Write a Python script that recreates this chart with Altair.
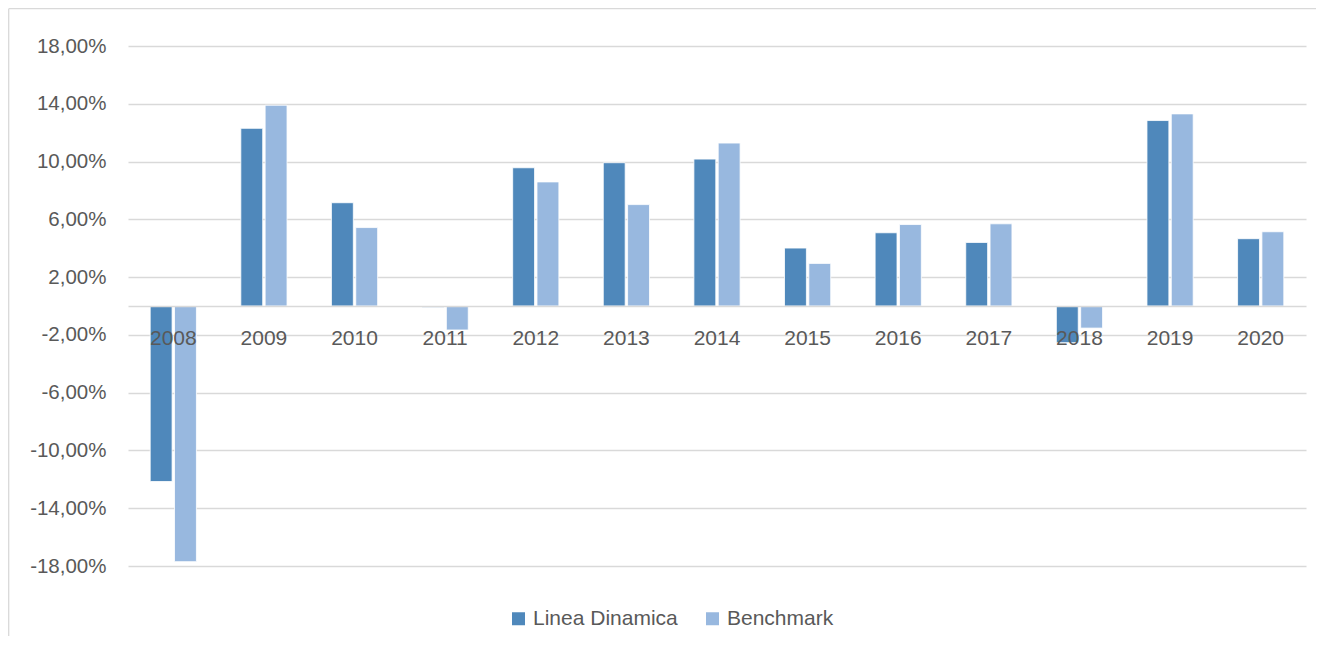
import altair as alt
import pandas as pd

years = ["2008", "2009", "2010", "2011", "2012", "2013", "2014",
         "2015", "2016", "2017", "2018", "2019", "2020"]
linea_dinamica = [-12.15, 12.30, 7.15, -0.10, 9.57, 9.92, 10.17,
                  4.01, 5.07, 4.40, -2.54, 12.84, 4.66]
benchmark = [-17.70, 13.90, 5.43, -1.66, 8.59, 7.02, 11.28,
             2.95, 5.64, 5.69, -1.53, 13.30, 5.14]
series = ["Linea Dinamica", "Benchmark"]
colors = ["#4F88BB", "#98B8DF"]
y_ticks = [-18, -14, -10, -6, -2, 2, 6, 10, 14, 18]

rows = []
for i, y in enumerate(years):
    rows.append({"anno": y, "serie": series[0], "valore": linea_dinamica[i]})
    rows.append({"anno": y, "serie": series[1], "valore": benchmark[i]})
df = pd.DataFrame(rows)

W, H = 1178, 520
PL, PT, PR, PB = 120, 38, 10, 70
FONT = "Liberation Sans"
TXT = "#595959"
GRID = "#d9d9d9"

bars = alt.Chart(df).mark_bar(stroke="white", strokeWidth=0.8).encode(
    x=alt.X("anno:N", sort=years,
            scale=alt.Scale(paddingInner=0.49, paddingOuter=0.245),
            axis=alt.Axis(title=None, labelAngle=0, ticks=False, grid=False,
                          domain=True, domainColor=GRID, domainWidth=1.3,
                          offset=-260, labelPadding=21, labelFontSize=21,
                          labelColor=TXT, labelFont=FONT, zindex=1)),
    xOffset=alt.XOffset("serie:N", sort=series,
                        scale=alt.Scale(domain=series, paddingInner=0.1, paddingOuter=0)),
    y=alt.Y("valore:Q",
            scale=alt.Scale(domain=[-18, 18], nice=False, zero=False),
            axis=alt.Axis(title=None, values=y_ticks, ticks=False, domain=False,
                          grid=True, gridColor=GRID, gridWidth=1.3,
                          labelPadding=22, labelFontSize=20.5, labelColor=TXT,
                          labelFont=FONT, zindex=0,
                          labelExpr="(datum.value < 0 ? '-' : '') + replace(format(abs(datum.value), '.2f'), '.', ',') + '%'")),
    color=alt.Color("serie:N",
                    scale=alt.Scale(domain=series, range=colors),
                    legend=alt.Legend(title=None, orient="none", legendX=380, legendY=562,
                                      direction="horizontal", symbolType="square",
                                      symbolSize=169, symbolStrokeWidth=0,
                                      labelFontSize=21, labelColor=TXT, labelFont=FONT,
                                      columnPadding=24, labelOffset=4)),
)

frame_df = pd.DataFrame({"k": [0]})
frame_top = alt.Chart(frame_df).mark_rule(stroke="#d9d9d9", strokeWidth=1.3).encode(
    x=alt.value(-PL + 0.7), x2=alt.value(W + PR), y=alt.value(-PT + 0.7),
)
frame_left = alt.Chart(frame_df).mark_rule(stroke="#d9d9d9", strokeWidth=1.3).encode(
    x=alt.value(-PL + 0.7), y=alt.value(-PT + 0.7), y2=alt.value(H + PB),
)

chart = alt.layer(frame_top, frame_left, bars).properties(
    width=W, height=H,
    autosize=alt.AutoSizeParams(type="none"),
    padding={"left": PL, "top": PT, "right": PR, "bottom": PB},
    background="white",
).configure_view(stroke=None)

chart.save("out.html", embed_options={"renderer": "svg", "actions": False})
